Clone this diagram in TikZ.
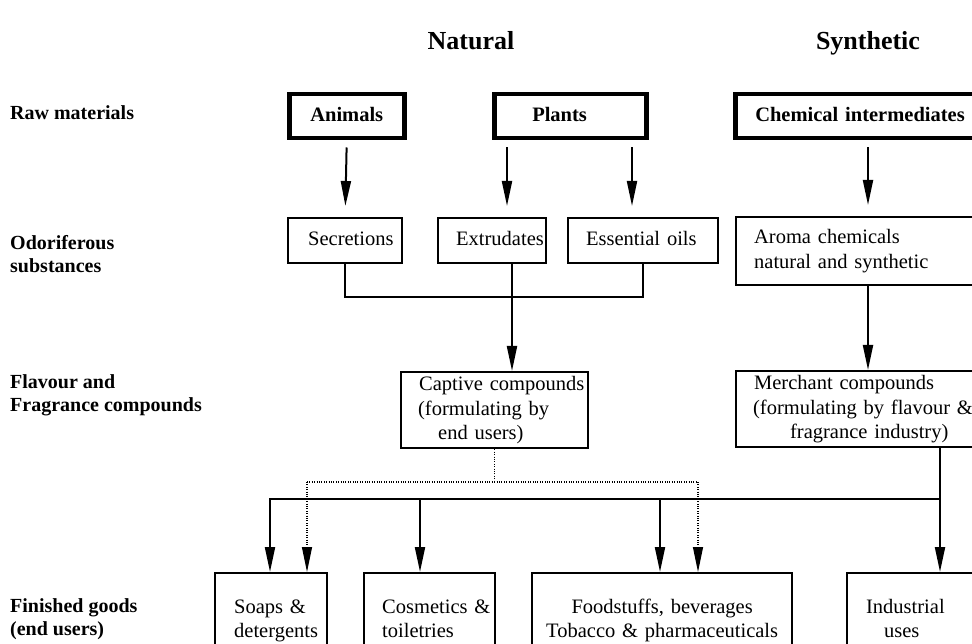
\documentclass[tikz,border=0pt]{standalone}
\usepackage{fontspec}
\setmainfont{Liberation Serif}
\usetikzlibrary{arrows.meta,calc}
\begin{document}
\begin{tikzpicture}[x=1pt,y=-1pt,
  every node/.style={font=\fontsize{20.5}{24.5}\selectfont},
  hbox/.style={draw, line width=4.5pt, inner xsep=0pt, inner ysep=0pt, anchor=north west, align=left, font=\fontsize{20.5}{24.5}\selectfont\bfseries, execute at begin node=\strut, execute at end node=\strut},
  tbox/.style={draw, line width=2.3pt, inner xsep=0pt, inner ysep=0pt, anchor=north west, align=left, execute at begin node=\strut, execute at end node=\strut},
  rowlab/.style={anchor=west, align=left, inner sep=0pt, font=\fontsize{20}{23}\selectfont\bfseries},
  head/.style={font=\fontsize{26}{30}\selectfont\bfseries, inner sep=0pt, anchor=base},
  conn/.style={line width=2pt, line cap=rect},
  arr/.style={line width=2pt, -{Triangle[length=25pt,width=10pt]}},
  dline/.style={line width=1.2pt, dash pattern=on 1pt off 1.4pt},
  darr/.style={dline, -{Triangle[length=25pt,width=10pt]}},
]
\useasboundingbox (0,0) rectangle (972,644);
\clip (0,0) rectangle (972,644);

% headings
\node[head] (nat) at (471,50) {Natural};
\node[head] (syn) at (868,50) {Synthetic};

% row labels
\node[rowlab] (l1) at (10,113) {Raw materials};
\node[rowlab] (l2) at (10,254) {Odoriferous\\substances};
\node[rowlab] (l3) at (10,395) {Flavour and\\Fragrance compounds};
\node[rowlab] (l4) at (10,619) {Finished goods\\(end users)};

% raw materials
\node[hbox, text width=115pt, minimum height=44pt, align=center] (anim) at (287,92) {Animals};
\node[hbox, text width=152pt, minimum height=44pt] (plant) at (492,92) {\hspace*{38pt}Plants};
\node[hbox, text width=260pt, minimum height=44pt] (chem) at (733,92) {\hspace*{20pt}Chemical intermediates};

% odoriferous substances
\node[tbox, text width=114pt, minimum height=45pt] (sec) at (287,217) {\hspace*{20pt}Secretions};
\node[tbox, text width=108pt, minimum height=45pt] (ext) at (437,217) {\hspace*{18pt}Extrudates};
\node[tbox, text width=150pt, minimum height=45pt] (eo) at (567,217) {\hspace*{18pt}Essential oils};
\node[tbox, text width=260pt, minimum height=68pt] (aro) at (735,216) {\hspace*{18pt}Aroma chemicals\\\hspace*{18pt}natural and synthetic};

% compounds
\node[tbox, text width=187pt, minimum height=76pt] (cap) at (400,371) {\hspace*{18pt}Captive compounds\\\hspace*{17pt}(formulating by\\\hspace*{37pt}end users)};
\node[tbox, text width=260pt, minimum height=76pt] (mer) at (735,370) {\hspace*{18pt}Merchant compounds\\\hspace*{17pt}(formulating by flavour \&\\\hspace*{54pt}fragrance industry)};

% finished goods
\node[tbox, text width=112pt, minimum height=95pt] (soap) at (214,572) {\hspace*{19pt}Soaps \&\\\hspace*{19pt}detergents};
\node[tbox, text width=131pt, minimum height=95pt] (cos) at (363,572) {\hspace*{18pt}Cosmetics \&\\\hspace*{18pt}toiletries};
\node[tbox, text width=260pt, minimum height=95pt, align=center] (food) at (531,572) {Foodstuffs, beverages\\Tobacco \& pharmaceuticals};
\node[tbox, text width=150pt, minimum height=95pt] (ind) at (846,572) {\hspace*{19pt}Industrial\\\hspace*{37pt}uses};

% helper coordinates
\coordinate (hl) at (0,297);
\coordinate (dl) at (0,482);
\coordinate (sl) at (0,499);
\coordinate (xp1) at (507,0);
\coordinate (xp2) at (632,0);
\coordinate (xe) at (512,0);
\coordinate (xm) at (868,0);
\coordinate (xi) at (940,0);
\coordinate (xd1) at (307,0);
\coordinate (xd2) at (698,0);
\coordinate (xs1) at (270,0);
\coordinate (xc) at (420,0);
\coordinate (xf) at (660,0);

% raw -> odoriferous
\draw[arr, shorten <=7pt, shorten >=11pt] (anim.south) -- (sec.north);
\draw[arr, shorten <=7pt, shorten >=11pt] (plant.south -| xp1) -- (ext.north -| xp1);
\draw[arr, shorten <=7pt, shorten >=11pt] (plant.south -| xp2) -- (eo.north -| xp2);
\draw[arr, shorten <=7pt, shorten >=11pt] (chem.south -| xm) -- (aro.north -| xm);

% odoriferous -> compounds
\draw[conn] (sec.south) -- (sec.south |- hl) -- (eo.south |- hl) -- (eo.south);
\draw[arr] (ext.south -| xe) -- (cap.north -| xe);
\draw[arr] (aro.south -| xm) -- (mer.north -| xm);

% captive (dotted)
\draw[dline] (cap.south) -- (cap.south |- dl);
\draw[dline] (xd1 |- dl) -- (xd2 |- dl);
\draw[darr] (xd1 |- dl) -- (soap.north -| xd1);
\draw[darr] (xd2 |- dl) -- (food.north -| xd2);

% merchant (solid)
\draw[conn] (xs1 |- sl) -- (xi |- sl) -- (mer.south -| xi);
\draw[arr] (xs1 |- sl) -- (soap.north -| xs1);
\draw[arr] (xc |- sl) -- (cos.north -| xc);
\draw[arr] (xf |- sl) -- (food.north -| xf);
\draw[arr] (xi |- sl) -- (ind.north -| xi);
\end{tikzpicture}
\end{document}
